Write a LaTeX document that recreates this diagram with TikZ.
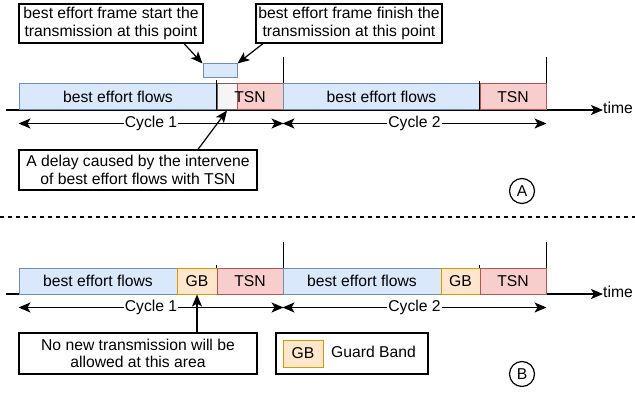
\documentclass[tikz,border=0pt]{standalone}
\usepackage{fontspec}
\setmainfont{Liberation Sans}
\usetikzlibrary{arrows.meta,calc}
\definecolor{befill}{HTML}{DAE8FC}
\definecolor{bedraw}{HTML}{6C8EBF}
\definecolor{tsnfill}{HTML}{F8CECC}
\definecolor{tsndraw}{HTML}{B85450}
\definecolor{gbfill}{HTML}{FFE6CC}
\definecolor{gbdraw}{HTML}{D79B00}
\definecolor{gapfill}{HTML}{F5F5F5}
\definecolor{gapdraw}{HTML}{666666}
\tikzset{
	every node/.style={font=\fontsize{15.7}{17.5}\selectfont, inner sep=0pt},
	slot/.style={draw, line width=1pt, minimum height=26pt},
	beslot/.style={slot, fill=befill, draw=bedraw},
	tsnslot/.style={slot, fill=tsnfill, draw=tsndraw},
	gbslot/.style={slot, fill=gbfill, draw=gbdraw},
	gapslot/.style={slot, fill=gapfill, draw=gapdraw},
	notebox/.style={draw, line width=1.2pt, align=center},
	panelmark/.style={draw, circle, line width=1.2pt, minimum size=25pt},
	pointer/.style={line width=1.2pt, -{Stealth[length=12pt,width=10pt,inset=3pt]}},
	span/.style={line width=1.2pt, {Stealth[length=12pt,width=10pt,inset=3pt]}-{Stealth[length=12pt,width=10pt,inset=3pt]}},
	cyclelabel/.style={fill=white, inner sep=1pt}
}
\begin{document}
\begin{tikzpicture}[x=1pt,y=-1pt]
	\useasboundingbox (0,0) rectangle (635,393);
	% part A
	\node[notebox, minimum width=184pt, minimum height=39pt] (startnote) at (111,23.5) {best effort frame start the\\transmission at this point};
	\node[notebox, minimum width=186pt, minimum height=39pt] (finishnote) at (349,23.5) {best effort frame finish the\\transmission at this point};
	\node[beslot, minimum width=34pt, minimum height=14pt] (frame) at (220,71) {};
	\draw[pointer] ($(startnote.south)+(73,0)$) -- (frame.north west);
	\draw[pointer] ($(finishnote.south)+(-86,0)$) -- (frame.north east);

	\coordinate (axisA) at (6,110);
	\node (timeA) at (618,108) {time};
	\draw[pointer] (axisA) -- (timeA.west |- axisA);

	\node[beslot, minimum width=198pt] (beA1) at (118,97) {best effort flows};
	\node[gapslot, minimum width=20pt] (gapA) at (227,97) {};
	\node[tsnslot, minimum width=46pt] (tsnA1) at (260,97) {\hspace*{-20pt}TSN};
	\node[beslot, minimum width=197pt] (beA2) at (381.5,97) {best effort flows};
	\node[tsnslot, minimum width=66pt] (tsnA2) at (513,97) {TSN};
	\draw[line width=1.2pt] ($(gapA.north west)+(0,-3)$) -- (gapA.south west);
	\draw[line width=1.2pt] ($(tsnA2.north west)+(0,-2)$) -- (tsnA2.south west);
	\draw[line width=1.2pt] (tsnA1.north east) -- ++(0,-26);
	\draw[line width=1.2pt] (tsnA2.north east) -- ++(0,-26);

	\draw[span] ($(beA1.south west)+(0,13)$) -- node[cyclelabel] {Cycle 1} ($(tsnA1.south east)+(0,13)$);
	\draw[span] ($(beA2.south west)+(0,13)$) -- node[cyclelabel] {Cycle 2} ($(tsnA2.south east)+(0,13)$);

	\node[notebox, minimum width=238pt, minimum height=40pt] (delaynote) at (138,170) {A delay caused by the intervene\\of best effort flows with TSN};
	\draw[pointer] ($(delaynote.north)+(60,0)$) -- (gapA.south);
	\node[panelmark] (markA) at (522,191) {A};

	\draw[line width=1.2pt, dash pattern=on 4pt off 4pt] (0,217) -- (635,217);

	% part B
	\coordinate (axisB) at (6,294);
	\node (timeB) at (618,292) {time};
	\draw[pointer] (axisB) -- (timeB.west |- axisB);

	\node[beslot, minimum width=158pt] (beB1) at (98,281) {best effort flows};
	\node[gbslot, minimum width=40pt] (gbB1) at (197,281) {GB};
	\node[tsnslot, minimum width=66pt] (tsnB1) at (250,281) {TSN};
	\node[beslot, minimum width=158pt] (beB2) at (362,281) {best effort flows};
	\node[gbslot, minimum width=39pt] (gbB2) at (460.5,281) {GB};
	\node[tsnslot, minimum width=66pt] (tsnB2) at (513,281) {TSN};
	\draw[line width=1.2pt] ($(tsnB1.north west)+(0,-3)$) -- (tsnB1.north west);
	\draw[line width=1.2pt] ($(tsnB2.north west)+(0,-3)$) -- (tsnB2.north west);
	\draw[line width=1.2pt] (tsnB1.north east) -- ++(0,-26);
	\draw[line width=1.2pt] (tsnB2.north east) -- ++(0,-26);

	\draw[span] ($(beB1.south west)+(0,13)$) -- node[cyclelabel] {Cycle 1} ($(tsnB1.south east)+(0,13)$);
	\draw[span] ($(beB2.south west)+(0,13)$) -- node[cyclelabel] {Cycle 2} ($(tsnB2.south east)+(0,13)$);

	\node[notebox, minimum width=238pt, minimum height=41pt] (nonewnote) at (138,353.5) {No new transmission will be\\allowed at this area};
	\draw[pointer] (nonewnote.north -| gbB1.south) -- (gbB1.south);

	\node[notebox, minimum width=152pt, minimum height=41pt] (legend) at (352,353.5) {};
	\node[gbslot, minimum width=40pt, minimum height=27pt] (gbkey) at (303,353.5) {GB};
	\node[anchor=west] (gbtext) at (331,352) {Guard Band};
	\node[panelmark] (markB) at (522,374) {B};
\end{tikzpicture}
\end{document}
